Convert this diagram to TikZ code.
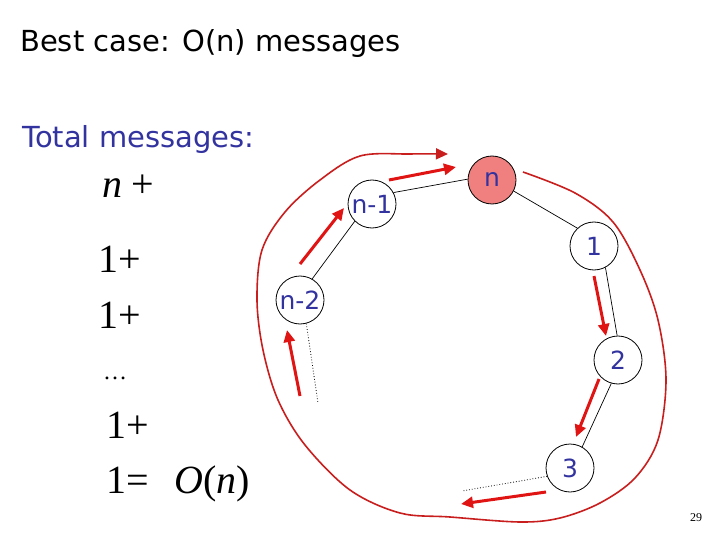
\documentclass[tikz,border=0pt]{standalone}
\usepackage{fontspec}
\setmainfont{DejaVu Sans}
\newfontfamily\tms{Liberation Serif}
\usetikzlibrary{arrows.meta}
\definecolor{txtblue}{RGB}{51,51,160}
\definecolor{nfill}{RGB}{240,128,128}
\definecolor{arrred}{RGB}{225,20,20}
\definecolor{loopred}{RGB}{200,30,30}
\tikzset{
  proc/.style={circle,draw=black,line width=0.8pt,minimum size=48pt,inner sep=0pt,
    text=txtblue,font=\fontsize{25}{25}\selectfont},
  link/.style={draw=black,line width=0.7pt},
  dotlink/.style={draw=black,line width=0.8pt,dotted},
  msg/.style={draw=arrred,line width=3pt,-{Triangle[length=12pt,width=11pt]}},
  bigloop/.style={draw=loopred,line width=1.6pt,-{Triangle[length=12pt,width=11pt]}},
  mathtxt/.style={anchor=base west,inner sep=0pt,font=\tms\fontsize{40}{40}\selectfont}
}
\begin{document}
\begin{tikzpicture}[x=1pt,y=-1pt]
\useasboundingbox (0,0) rectangle (720,540);
% texts
\node[anchor=base west,inner sep=0pt,font=\fontsize{29}{29}\selectfont] (title) at (20,52) {Best case: O(n) messages};
\node[anchor=base west,inner sep=0pt,text=txtblue,font=\fontsize{29}{29}\selectfont] (total) at (22,148) {Total messages:};
\node[mathtxt] (m1) at (102,198) {\itshape n\upshape\hspace*{9pt}+};
\node[mathtxt] (m2) at (98,272) {1+};
\node[mathtxt] (m3) at (98,328) {1+};
\node[anchor=base west,inner sep=0pt,font=\tms\fontsize{24}{24}\selectfont] (m4) at (103,379) {\dots};
\node[mathtxt] (m5) at (106,438) {1+};
\node[mathtxt] (m6) at (106,493) {1=\hspace*{26pt}\itshape O\upshape(\itshape n\upshape)};
\node[anchor=base,inner sep=0pt,font=\tms\fontsize{12}{12}\selectfont] (pg) at (696,521) {29};
% ring nodes
\node[proc,fill=nfill] (n) at (492,180) {n};
\node[proc] (nm1) at (372,204) {n-1};
\node[proc] (nm2) at (300,300) {n-2};
\node[proc] (p1) at (594,246) {1};
\node[proc] (p2) at (618,360) {2};
\node[proc] (p3) at (570,468) {3};
\coordinate (d2) at (318,403);
\coordinate (d3) at (462,491);
% links
\draw[link] (n.178) -- (nm1.28);
\draw[link] (n.-27) -- (p1.133);
\draw[link] (p1.-62) -- (p2.92);
\draw[link] (p2.-106) -- (p3.60);
\draw[link] (nm1.225) -- (nm2.60);
\draw[dotlink] (nm2.-75) -- (d2);
\draw[dotlink] (p3.200) -- (d3);
% message arrows
\coordinate (a1s) at (389,180); \coordinate (a1e) at (456,167);
\coordinate (a2s) at (300,264); \coordinate (a2e) at (344,208);
\coordinate (a3s) at (594,276); \coordinate (a3e) at (606,336);
\coordinate (a4s) at (599,379); \coordinate (a4e) at (576,437);
\coordinate (a5s) at (546,492); \coordinate (a5e) at (461,504);
\coordinate (a6s) at (300,396); \coordinate (a6e) at (287,330);
\draw[msg] (a1s) -- (a1e);
\draw[msg] (a2s) -- (a2e);
\draw[msg] (a3s) -- (a3e);
\draw[msg] (a4s) -- (a4e);
\draw[msg] (a5s) -- (a5e);
\draw[msg] (a6s) -- (a6e);
% big loop
\draw[bigloop] plot[smooth,tension=0.55] coordinates {(523,172) (575,193) (613,222) (640,270) (658,320) (666,380) (658,440) (635,478) (600,503) (560,518) (520,522) (450,517) (400,513) (350,490) (305,445) (278,400) (263,350) (257,300) (262,250) (285,212) (320,180) (360,156) (410,154) (448,154)};
\end{tikzpicture}
\end{document}
